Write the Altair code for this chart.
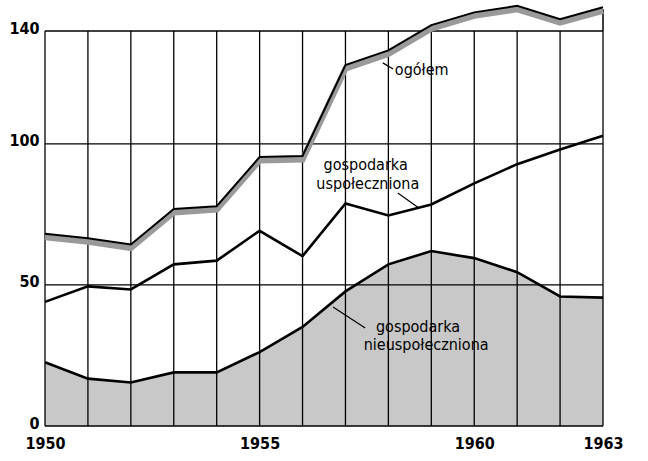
import altair as alt
import pandas as pd

# ---- data ----
years = list(range(1950, 1964))
ogolem = [67.4, 65.8, 63.6, 76.2, 77.2, 94.6, 95.0, 127.2, 132.4, 141.4, 145.9, 148.2, 143.5, 147.7]
uspol = [44.0, 49.5, 48.4, 57.3, 58.6, 69.2, 60.2, 78.9, 74.6, 78.5, 86.0, 92.8, 98.0, 102.9]
nieuspol = [22.6, 16.8, 15.4, 19.0, 19.0, 26.2, 35.1, 47.7, 57.3, 62.0, 59.5, 54.5, 45.9, 45.5]
y_ticks = [0, 50, 100, 140]
x_labels = [1950, 1955, 1960, 1963]

# annotation texts (data coordinates)
lab_text = ["ogółem", "gospodarka", "uspołeczniona", "gospodarka", "nieuspołeczniona"]
lab_x = [1958.15, 1957.47, 1957.52, 1958.69, 1958.88]
lab_y = [124.4, 90.6, 84.0, 33.4, 26.8]
lab_align = ["left", "center", "center", "center", "center"]

lead_x = [1957.87, 1958.22, 1956.71]
lead_y = [128.7, 82.6, 42.2]
lead_x2 = [1958.11, 1958.71, 1957.46]
lead_y2 = [126.5, 77.3, 34.7]

FONT = "DejaVu Sans Condensed"

y_lo, y_hi = y_ticks[0], y_ticks[-1]
x_lo, x_hi = years[0], years[-1]

df = pd.DataFrame({"rok": years, "ogolem": ogolem, "usp": uspol, "nieusp": nieuspol,
                   "g0": [y_lo] * len(years), "g1": [y_hi] * len(years)})
lab_df = pd.DataFrame({"t": lab_text, "x": lab_x, "y": lab_y, "align": lab_align})
lead_df = pd.DataFrame({"x": lead_x, "y": lead_y, "x2": lead_x2, "y2": lead_y2})
hgrid = pd.DataFrame({"v": y_ticks, "a": [x_lo] * len(y_ticks), "b": [x_hi] * len(y_ticks)})

xscale = alt.Scale(domain=[x_lo, x_hi], nice=False, zero=False)
yscale = alt.Scale(domain=[y_lo, y_hi], nice=False)

label_expr = "indexof([" + ",".join(str(v) for v in x_labels) + "], datum.value) >= 0 ? datum.value : ''"

X = alt.X(
    "rok:Q",
    scale=xscale,
    axis=alt.Axis(
        values=years, labelExpr=label_expr, format="d", title=None, grid=False,
        ticks=False, domain=False, labelFontSize=16, labelFont=FONT,
        labelFontWeight="bold", labelColor="black", labelPadding=9,
        labelFlush=False, labelOverlap=False,
    ),
)
Y = alt.Y(
    "nieusp:Q",
    scale=yscale,
    axis=alt.Axis(
        values=y_ticks, title=None, grid=False, ticks=False, domain=False,
        labelFontSize=16, labelFont=FONT, labelFontWeight="bold",
        labelColor="black", labelPadding=6, labelOffset=-3,
    ),
)

area = alt.Chart(df).mark_area(color="#c8c8c8", opacity=1).encode(x=X, y=Y)

vgrid = alt.Chart(df).mark_rule(color="black", strokeWidth=1.3).encode(
    x="rok:Q", y="g0:Q", y2=alt.Y2("g1")
)
hgrid_l = alt.Chart(hgrid).mark_rule(color="black", strokeWidth=1.3).encode(
    y="v:Q", x="a:Q", x2=alt.X2("b")
)
right_edge = alt.Chart(df.tail(1)).mark_rule(color="black", strokeWidth=1.5).encode(
    x="rok:Q", y="g1:Q", y2=alt.Y2("ogolem")
)

line_n = alt.Chart(df).mark_line(color="black", strokeWidth=2.6).encode(x="rok:Q", y="nieusp:Q")
line_u = alt.Chart(df).mark_line(color="black", strokeWidth=2.6).encode(x="rok:Q", y="usp:Q")
line_o_gray = alt.Chart(df).mark_line(color="#9a9a9a", strokeWidth=6, yOffset=1.5).encode(
    x="rok:Q", y="ogolem:Q"
)
line_o_black = alt.Chart(df).mark_line(color="black", strokeWidth=2, yOffset=-2).encode(
    x="rok:Q", y="ogolem:Q"
)

leaders = alt.Chart(lead_df).mark_rule(color="black", strokeWidth=1.2).encode(
    x="x:Q", y="y:Q", x2=alt.X2("x2"), y2=alt.Y2("y2")
)

text_layers = []
for al in ["left", "center"]:
    sub = lab_df[lab_df["align"] == al]
    text_layers.append(
        alt.Chart(sub).mark_text(
            font=FONT, fontSize=16, baseline="alphabetic", align=al, color="black",
        ).encode(x="x:Q", y="y:Q", text="t:N")
    )

chart = alt.layer(
    area, vgrid, hgrid_l, right_edge, line_n, line_u, line_o_gray, line_o_black,
    leaders, *text_layers,
).properties(
    width=558, height=395,
    padding={"left": 45, "top": 31, "right": 45, "bottom": 35},
    autosize=alt.AutoSizeParams(type="none"),
    background="white",
).configure_view(stroke=None)

chart.save("out.html", embed_options={"renderer": "svg", "actions": False})
